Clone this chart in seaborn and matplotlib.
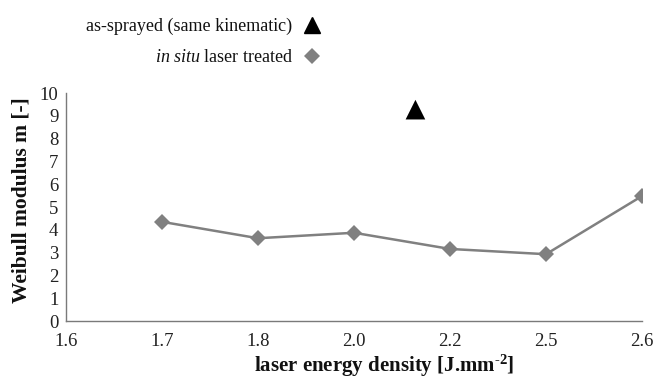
import matplotlib
matplotlib.use("Agg")
import matplotlib.pyplot as plt
from matplotlib.lines import Line2D
import seaborn as sns
import pandas as pd

# ---- data ----
categories = ["1.6", "1.7", "1.8", "2.0", "2.2", "2.5", "2.6"]
laser_cats = ["1.7", "1.8", "2.0", "2.2", "2.5", "2.6"]
laser_m = [4.35, 3.63, 3.87, 3.16, 2.93, 5.48]
as_sprayed_pos = [3.64]   # position on the category axis (between 2.0 and 2.2)
as_sprayed_m = [9.27]
yticks = list(range(0, 11))

sns.set_theme(style="white")
plt.rcParams["font.family"] = ["Liberation Serif", "DejaVu Serif"]
plt.rcParams["mathtext.fontset"] = "custom"
plt.rcParams["mathtext.rm"] = "Liberation Serif:bold"
plt.rcParams["mathtext.it"] = "Liberation Serif:italic"
plt.rcParams["mathtext.bf"] = "Liberation Serif:bold"

fig = plt.figure(figsize=(6.56, 3.78), dpi=100)
ax = fig.add_axes([66/656, 1-321/378, 576/656, 228/378])

idx = {c: i for i, c in enumerate(categories)}
df = pd.DataFrame({"x": [idx[c] for c in laser_cats], "m": laser_m})
grey = "#808080"
sns.lineplot(data=df, x="x", y="m", ax=ax, color=grey, linewidth=1.8,
             marker="D", markersize=8.5, markeredgewidth=0, markerfacecolor=grey)
df2 = pd.DataFrame({"x": as_sprayed_pos, "m": as_sprayed_m})
sns.scatterplot(data=df2, x="x", y="m", ax=ax, marker="^", s=200,
                color="black", edgecolor="none")

ax.set_xlim(0, len(categories) - 1)
ax.set_ylim(0, 10)
ax.set_xticks(range(len(categories)))
ax.set_xticklabels(categories)
ax.set_yticks(yticks)
ax.set_yticklabels([str(t) for t in yticks])

for s in ["top", "right"]:
    ax.spines[s].set_visible(False)
for s in ["left", "bottom"]:
    ax.spines[s].set_color("#7a7a7a")
    ax.spines[s].set_linewidth(1.0)
ax.tick_params(axis="both", direction="inout", length=7, width=1.0,
               color="#7a7a7a", labelsize=13.5, labelcolor="#222222", pad=2)
ax.tick_params(axis="x", pad=5)

ax.set_xlabel(r"laser energy density [J.mm$^{\text{-2}}$]", fontsize=15,
              fontweight="bold", color="#111111")
ax.set_ylabel("Weibull modulus m [-]", fontsize=15.5, fontweight="bold",
              color="#111111")
ax.xaxis.set_label_coords(0.552, -0.14)
ax.yaxis.set_label_coords(-0.06, 0.53)

handles = [
    Line2D([], [], linestyle="none", marker="^", color="black", markersize=11),
    Line2D([], [], linestyle="none", marker="D", color=grey, markersize=8,
           markeredgewidth=0),
]
labels = ["as-sprayed (same kinematic)", r"$\it{in\ situ}$ laser treated"]
fig.legend(handles, labels, loc="upper left", bbox_to_anchor=(0.107, 0.995),
           frameon=False, markerfirst=False, fontsize=13, handlelength=1.0,
           handletextpad=0.6, labelspacing=0.75, labelcolor="#111111")

fig.savefig("out.png", dpi=100)
